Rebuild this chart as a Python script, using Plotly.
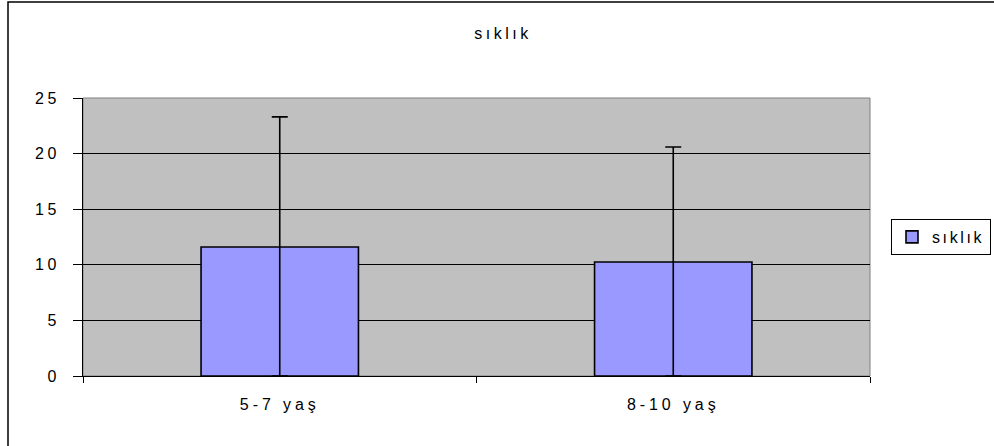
import plotly.graph_objects as go

categories = ["5-7 yaş", "8-10 yaş"]
values = [11.6, 10.25]
error_plus = [11.7, 10.35]
series_name = "sıklık"
y_ticks = [0, 5, 10, 15, 20, 25]


def sp(t, s=3.5):
    return f'<span style="letter-spacing:{s}px">{t}</span>'


W, H = 994, 446
L, R, T, B = 83, 124, 98, 70
pw, ph = W - L - R, H - T - B

fig = go.Figure()
fig.add_trace(go.Bar(
    x=categories,
    y=values,
    name=sp(series_name, 2.6),
    marker=dict(color="#9999FF", line=dict(color="black", width=1.6)),
    error_y=dict(type="data", symmetric=False, array=error_plus, arrayminus=values,
                 color="black", thickness=1.6, width=8),
))

font = dict(family="Liberation Sans, Arial, sans-serif", size=16, color="black")

fig.update_layout(
    width=W, height=H,
    margin=dict(l=L, r=R, t=T, b=B, autoexpand=False),
    paper_bgcolor="white",
    plot_bgcolor="#C0C0C0",
    font=font,
    bargap=0.6,
    showlegend=True,
    title=dict(text=sp(series_name), x=503 / W, xref="container", xanchor="center",
               y=1 - 33 / H, yref="container", yanchor="middle", font=font),
    legend=dict(x=(891 - L) / pw, xanchor="left", y=(H - B - 237) / ph, yanchor="middle",
                bgcolor="white", bordercolor="black", borderwidth=1, font=font),
    xaxis=dict(type="category", range=[-0.5, 1.5], tickson="boundaries",
               ticks="outside", ticklen=6, tickcolor="black", tickwidth=1,
               showline=True, linecolor="black", linewidth=1,
               tickvals=categories, ticktext=[sp(c, 3.9) for c in categories],
               showgrid=False, ticklabelstandoff=14),
    yaxis=dict(range=[0, 25], tickvals=y_ticks, ticktext=[sp(str(v)) for v in y_ticks],
               ticks="outside", ticklen=9, tickcolor="black", tickwidth=1,
               showline=True, linecolor="black", linewidth=1,
               showgrid=True, gridcolor="black", gridwidth=1, zeroline=False,
               ticklabelstandoff=10),
    shapes=[
        dict(type="rect", xref="paper", yref="paper", x0=0, x1=1, y0=0, y1=1,
             line=dict(color="#808080", width=1), layer="below"),
        dict(type="rect", xref="paper", yref="paper",
             x0=(8 - L) / pw, x1=(W + 20 - L) / pw,
             y0=(H - B - (H + 20)) / ph, y1=(H - B - 2) / ph,
             line=dict(color="black", width=1.5), layer="below"),
    ],
)

fig.write_html(
    "out.html",
    config={"displayModeBar": False},
    post_script="document.body.style.margin='0';document.body.style.overflow='hidden';",
)
